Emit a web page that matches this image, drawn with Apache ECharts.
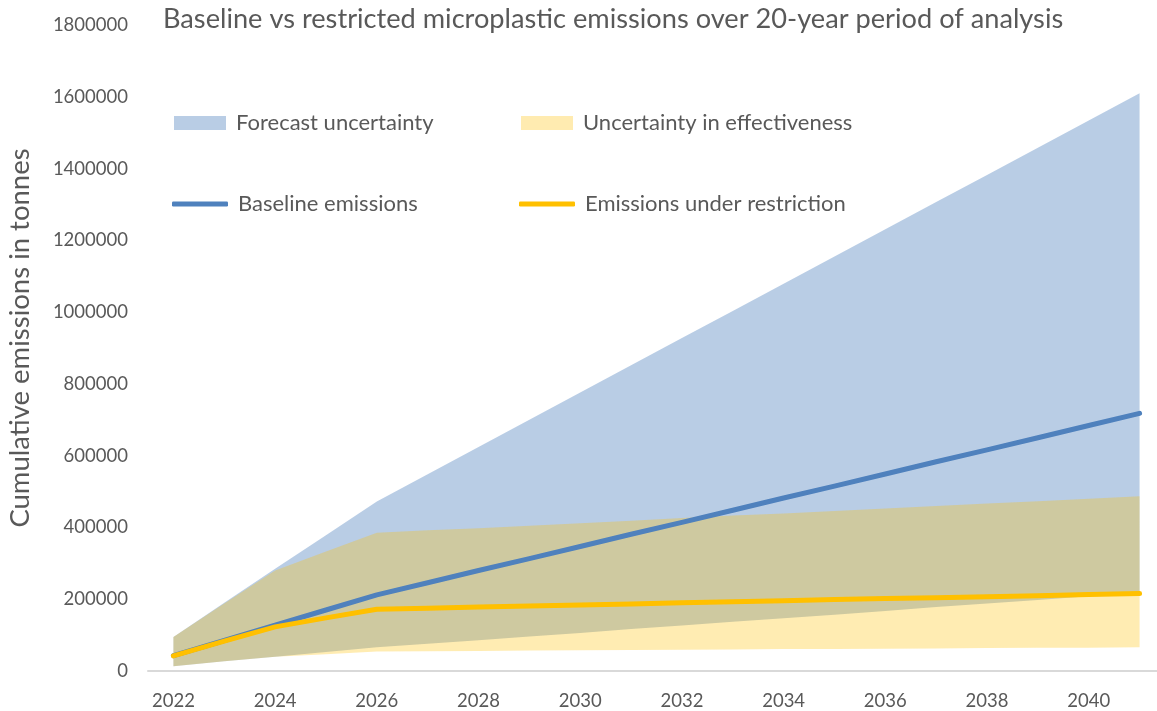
<!DOCTYPE html>
<html>
<head>
<meta charset="utf-8">
<script src="https://cdn.jsdelivr.net/npm/echarts@6/dist/echarts.min.js"></script>
<style>html,body{margin:0;padding:0;background:#fff;overflow:hidden}#c{width:1165px;height:711px}</style>
</head>
<body>
<div id="c"></div>
<script>
const years = ['2022','2023','2024','2025','2026','2027','2028','2029','2030','2031','2032','2033','2034','2035','2036','2037','2038','2039','2040','2041'];
const baseline = [43000, 85000, 128000, 170000, 212000, 246000, 280000, 313000, 347000, 381000, 414000, 448000, 482000, 515000, 549000, 583000, 616000, 650000, 684000, 718000];
const restricted = [42000, 83000, 123000, 148000, 172000, 175000, 178000, 181000, 184000, 187000, 190000, 193000, 196000, 199000, 202000, 204000, 207000, 210000, 213000, 216000];
const forecastLow = [13000, 27000, 40000, 53000, 66000, 76000, 86000, 96000, 106000, 117000, 127000, 137000, 147000, 157000, 167000, 178000, 188000, 198000, 208000, 218000];
const forecastHigh = [95000, 190000, 285000, 378000, 472000, 548000, 624000, 700000, 776000, 852000, 928000, 1003000, 1079000, 1155000, 1231000, 1307000, 1382000, 1458000, 1534000, 1610000];
const effectLow = [13000, 27000, 40000, 47000, 54000, 55000, 56000, 57000, 58000, 58500, 59000, 60000, 61000, 61500, 62000, 63000, 64000, 64500, 65000, 66000];
const effectHigh = [95000, 188000, 280000, 333000, 385000, 392000, 398000, 405000, 412000, 419000, 426000, 433000, 439000, 446000, 453000, 460000, 467000, 473000, 480000, 487000];
const yTicks = {min: 0, max: 1800000, interval: 200000};

const diff = (hi, lo) => hi.map((v, i) => v - lo[i]);
const FONT = 'Lato';
const TXT = '#595959';
const BLUE = '#4F81BD';
const YEL = '#FFC000';

const chart = echarts.init(document.getElementById('c'), null, {renderer: 'canvas'});

function legendAt(name, left, top, icon, color, w, h) {
  return {
    data: [{name: name, icon: icon, itemStyle: {color: color, opacity: 1}}],
    left: left, top: top, padding: 0,
    itemWidth: w, itemHeight: h,
    selectedMode: false,
    textStyle: {fontFamily: FONT, fontSize: 22, color: TXT, padding: [0, 0, 0, 5]}
  };
}

chart.setOption({
  animation: false,
  textStyle: {fontFamily: FONT},
  title: {
    text: 'Baseline vs restricted microplastic emissions over 20-year period of analysis',
    left: 163, top: 6, padding: 0,
    textStyle: {fontFamily: FONT, fontSize: 27.2, fontWeight: 'normal', color: TXT}
  },
  legend: [
    legendAt('Forecast uncertainty', 174, 112, 'rect', '#B9CDE5', 52, 14),
    legendAt('Uncertainty in effectiveness', 521, 112, 'rect', '#FFEBB0', 52, 14),
    legendAt('Baseline emissions', 172, 193, 'roundRect', BLUE, 56, 5),
    legendAt('Emissions under restriction', 519, 193, 'roundRect', YEL, 56, 5)
  ],
  graphic: [{
    type: 'text', x: 20, y: 338, rotation: Math.PI / 2,
    style: {text: 'Cumulative emissions in tonnes', fill: TXT, font: '27.5px Lato',
            textAlign: 'center', textVerticalAlign: 'middle'}
  }],
  grid: {left: 148, top: 25, right: 0, bottom: 40, containLabel: false},
  xAxis: {
    type: 'category', data: years, boundaryGap: true,
    axisLine: {show: true, lineStyle: {color: '#D9D9D9', width: 2}},
    axisTick: {show: false},
    axisLabel: {interval: 1, fontFamily: FONT, fontSize: 18.5, color: TXT, margin: 21},
    splitLine: {show: false}
  },
  yAxis: {
    type: 'value', min: yTicks.min, max: yTicks.max, interval: yTicks.interval,
    axisLine: {show: false}, axisTick: {show: false}, splitLine: {show: false},
    axisLabel: {fontFamily: FONT, fontSize: 18.5, color: TXT, margin: 20, formatter: v => String(v)}
  },
  series: [
    {name: 'fLow', type: 'line', stack: 'f', data: forecastLow, symbol: 'none', silent: true,
     lineStyle: {opacity: 0, width: 0}, z: 1},
    {name: 'Forecast uncertainty', type: 'line', stack: 'f', data: diff(forecastHigh, forecastLow), symbol: 'none', silent: true,
     lineStyle: {opacity: 0, width: 0}, itemStyle: {color: '#B9CDE5'},
     areaStyle: {color: BLUE, opacity: 0.4}, z: 1},
    {name: 'eLow', type: 'line', stack: 'e', data: effectLow, symbol: 'none', silent: true,
     lineStyle: {opacity: 0, width: 0}, z: 2},
    {name: 'Uncertainty in effectiveness', type: 'line', stack: 'e', data: diff(effectHigh, effectLow), symbol: 'none', silent: true,
     lineStyle: {opacity: 0, width: 0}, itemStyle: {color: '#FFEBB0'},
     areaStyle: {color: YEL, opacity: 0.3}, z: 2},
    {name: 'Baseline emissions', type: 'line', data: baseline, symbol: 'none',
     lineStyle: {color: BLUE, width: 5, cap: 'round', join: 'round'}, itemStyle: {color: BLUE}, z: 3},
    {name: 'Emissions under restriction', type: 'line', data: restricted, symbol: 'none',
     lineStyle: {color: YEL, width: 5, cap: 'round', join: 'round'}, itemStyle: {color: YEL}, z: 4}
  ]
});
</script>
</body>
</html>
